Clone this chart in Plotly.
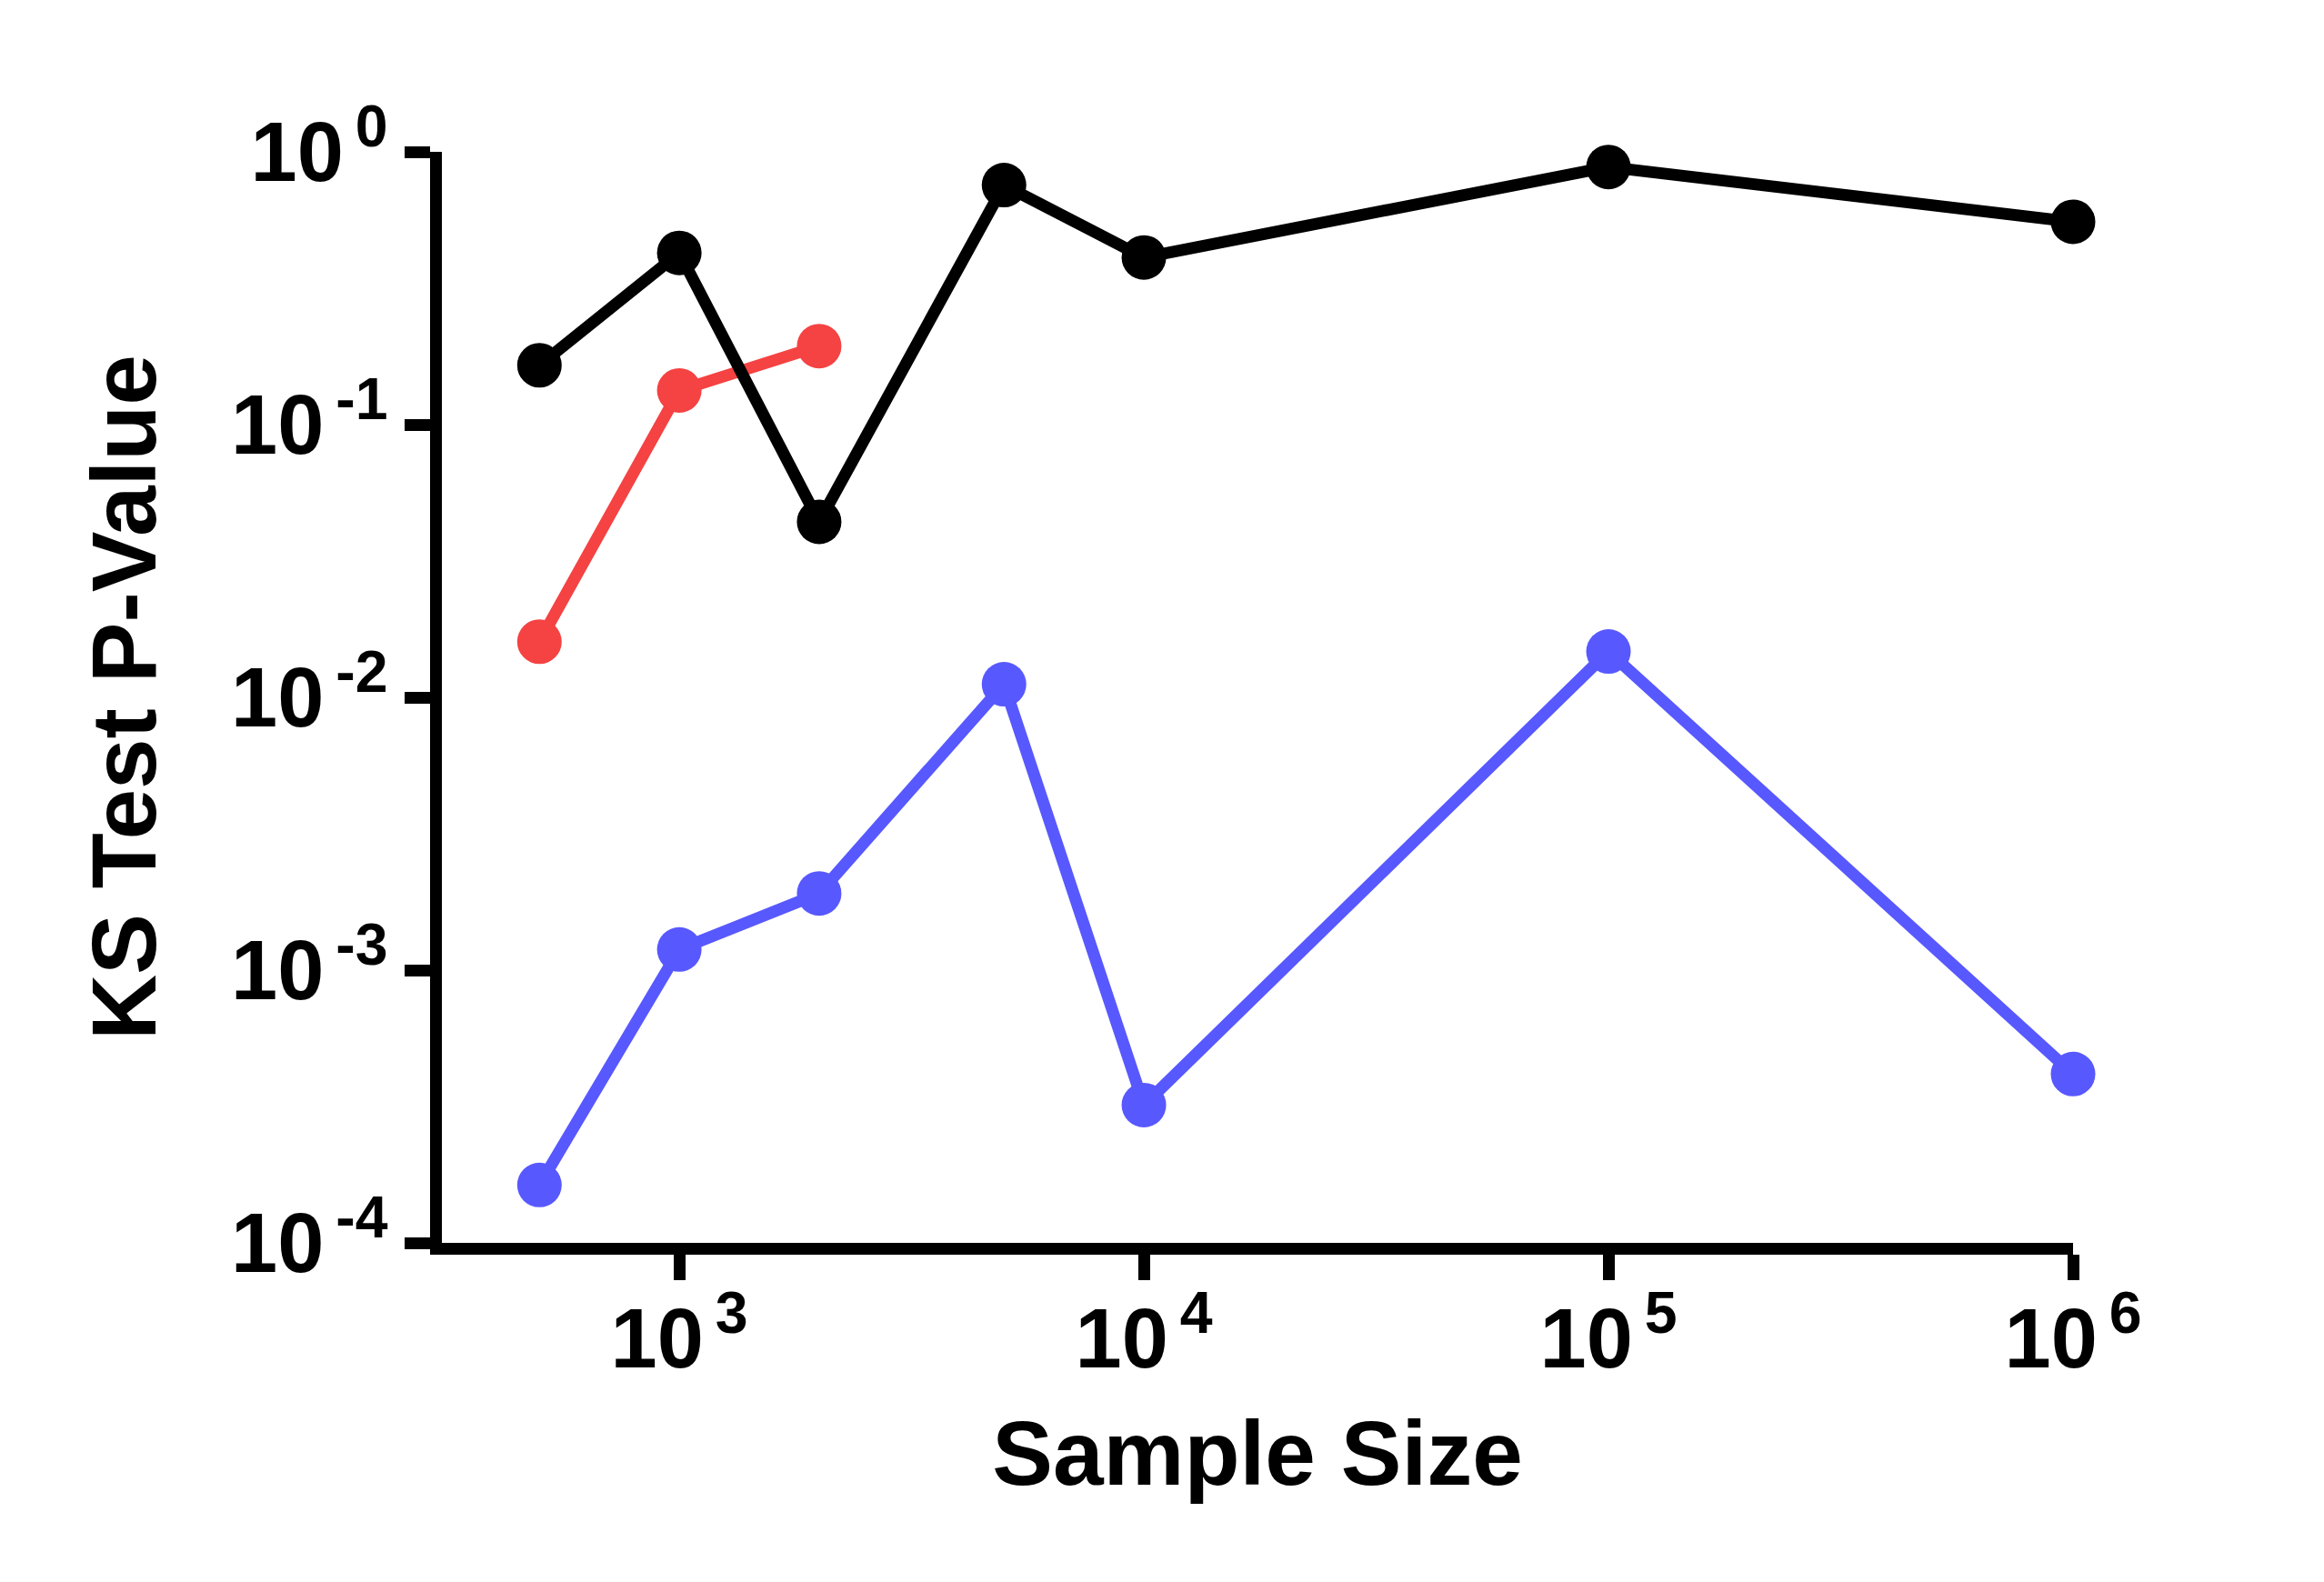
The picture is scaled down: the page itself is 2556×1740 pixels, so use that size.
import plotly.graph_objects as go

# ---- data ----
sample_size = [500, 1000, 2000, 5000, 10000, 100000, 1000000]
black_p = [0.165, 0.426, 0.0440, 0.755, 0.410, 0.880, 0.554]
red_x = [500, 1000, 2000]
red_p = [0.0160, 0.1334, 0.194]
blue_p = [1.63e-4, 1.19e-3, 1.91e-3, 0.01117, 3.2e-4, 0.01473, 4.16e-4]

x_tickvals = [1e3, 1e4, 1e5, 1e6]
x_ticktext = ["10<sup>\u20093</sup>", "10<sup>\u20094</sup>", "10<sup>\u20095</sup>", "10<sup>\u20096</sup>"]
y_tickvals = [1e-4, 1e-3, 1e-2, 1e-1, 1]
y_ticktext = ["10<sup>\u2009-4</sup>", "10<sup>\u2009-3</sup>", "10<sup>\u2009-2</sup>",
              "10<sup>\u2009-1</sup>", "10<sup>\u20090</sup>"]

BLUE = "rgb(88,88,255)"
RED = "rgb(245,66,66)"
BLACK = "black"
LW = 13
MS = 49

fig = go.Figure()
fig.add_trace(go.Scatter(x=sample_size, y=blue_p, mode="lines+markers", cliponaxis=False,
                         line=dict(color=BLUE, width=LW), marker=dict(color=BLUE, size=MS)))
fig.add_trace(go.Scatter(x=red_x, y=red_p, mode="lines+markers", cliponaxis=False,
                         line=dict(color=RED, width=LW), marker=dict(color=RED, size=MS)))
fig.add_trace(go.Scatter(x=sample_size, y=black_p, mode="lines+markers", cliponaxis=False,
                         line=dict(color=BLACK, width=LW), marker=dict(color=BLACK, size=MS)))

FONT = "Liberation Sans, Arial, sans-serif"
fig.update_layout(
    width=2556, height=1740,
    margin=dict(l=486, r=276, t=167, b=373),
    paper_bgcolor="white", plot_bgcolor="white",
    showlegend=False,
    font=dict(family=FONT, color="black"),
    xaxis=dict(type="log", range=[2.489, 6], showline=True, linewidth=13, linecolor="black",
               ticks="outside", ticklen=28, tickwidth=13, tickcolor="black",
               showgrid=False, zeroline=False, ticklabelstandoff=-14,
               tickvals=x_tickvals, ticktext=x_ticktext,
               tickfont=dict(family=FONT, size=92, weight="bold"),
               title=dict(text="<b>Sample Size</b>", font=dict(family=FONT, size=100), standoff=46)),
    yaxis=dict(type="log", range=[-4, 0], showline=True, linewidth=13, linecolor="black",
               ticks="outside", ticklen=28, tickwidth=13, tickcolor="black",
               showgrid=False, zeroline=False,
               tickvals=y_tickvals, ticktext=y_ticktext,
               tickfont=dict(family=FONT, size=92, weight="bold"),
               title=dict(text="<b>KS Test P-Value</b>", font=dict(family=FONT, size=100), standoff=55)),
)

fig.write_html("out.html")
